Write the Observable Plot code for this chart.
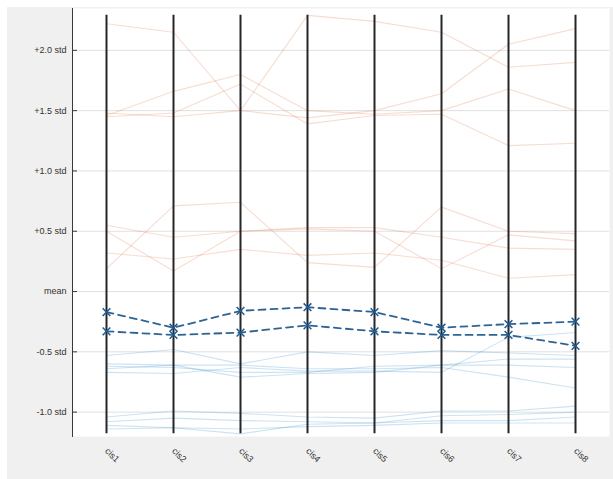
<!DOCTYPE html>
<html><head><meta charset="utf-8">
<script src="https://cdn.jsdelivr.net/npm/d3@7"></script>
<script src="https://cdn.jsdelivr.net/npm/@observablehq/plot@0.6"></script>
<style>
html,body{margin:0;padding:0;background:#fff;}
#chart{position:absolute;left:7px;top:7px;width:606px;height:472px;background:#f0f0f0;}
</style></head><body><div id="chart"></div>
<script>
const categories = ["cis1","cis2","cis3","cis4","cis5","cis6","cis7","cis8"];
const yTickValues = [2, 1.5, 1, 0.5, 0, -0.5, -1];
const yTickLabels = ["+2.0 std","+1.5 std","+1.0 std","+0.5 std","mean","-0.5 std","-1.0 std"];

// orange group (high)
const orangeA = [1.46, 1.66, 1.80, 1.50, 1.47, 1.50, 1.68, 1.50];
const orangeB = [1.45, 1.48, 1.72, 1.39, 1.46, 1.47, 1.21, 1.23];
const orangeC = [1.48, 1.45, 1.50, 2.29, 2.24, 2.15, 1.86, 1.90];
const orangeD = [2.22, 2.15, 1.50, 1.44, 1.50, 1.64, 2.05, 2.18];
// orange group (middle)
const orangeE = [0.19, 0.71, 0.74, 0.24, 0.20, 0.70, 0.50, 0.48];
const orangeF = [0.55, 0.45, 0.50, 0.53, 0.53, 0.45, 0.36, 0.35];
const orangeG = [0.50, 0.17, 0.50, 0.52, 0.50, 0.19, 0.47, 0.42];
const orangeH = [0.32, 0.27, 0.35, 0.30, 0.32, 0.26, 0.11, 0.14];
// blue group
const blueA = [-0.53, -0.48, -0.60, -0.50, -0.53, -0.49, -0.51, -0.53];
const blueB = [-0.60, -0.61, -0.61, -0.64, -0.64, -0.63, -0.71, -0.80];
const blueC = [-0.64, -0.61, -0.71, -0.68, -0.67, -0.61, -0.56, -0.56];
const blueD = [-0.67, -0.68, -0.63, -0.66, -0.66, -0.67, -0.38, -0.34];
const blueE = [-0.62, -0.63, -0.67, -0.67, -0.62, -0.61, -0.61, -0.63];
const blueF = [-1.04, -0.99, -1.01, -1.04, -1.05, -0.99, -0.99, -0.95];
const blueG = [-1.08, -1.05, -1.07, -1.08, -1.09, -1.03, -1.02, -1.00];
const blueH = [-1.11, -1.13, -1.18, -1.10, -1.09, -1.07, -1.07, -1.04];
const blueI = [-1.14, -1.13, -1.14, -1.12, -1.11, -1.09, -1.09, -1.09];
// highlighted (dashed) rows
const highlightA = [-0.17, -0.30, -0.16, -0.13, -0.17, -0.30, -0.27, -0.25];
const highlightB = [-0.33, -0.36, -0.34, -0.28, -0.33, -0.36, -0.36, -0.45];

const toRows = (series, group) => series.flatMap((vals, k) =>
  vals.map((v, i) => ({cat: categories[i], v, id: group + k})));
const orangeRows = toRows([orangeA, orangeB, orangeC, orangeD, orangeE, orangeF, orangeG, orangeH], "o");
const blueRows = toRows([blueA, blueB, blueC, blueD, blueE, blueF, blueG, blueH, blueI], "b");
const highRows = toRows([highlightA, highlightB], "h");
const allVals = [...orangeRows, ...blueRows, ...highRows].map(d => d.v);
const yMin = d3.min(allVals), yMax = d3.max(allVals);

const plot = Plot.plot({
  width: 606, height: 472,
  marginLeft: 65, marginRight: 4, marginTop: 1, marginBottom: 43,
  style: {background: "transparent", fontFamily: "'Liberation Sans', Arial, sans-serif", fontSize: "9px", color: "#333"},
  x: {type: "point", domain: categories, padding: 0.5, label: null},
  y: {domain: [-1.202, 2.347], label: null},
  marks: [
    Plot.frame({fill: "white", stroke: null}),
    Plot.gridY(yTickValues, {stroke: "#e0e0e0", strokeOpacity: 1}),
    Plot.line(orangeRows, {x: "cat", y: "v", z: "id", stroke: "#d9531a", strokeOpacity: 0.2, strokeWidth: 1.1}),
    Plot.line(blueRows, {x: "cat", y: "v", z: "id", stroke: "#0072bd", strokeOpacity: 0.2, strokeWidth: 1.1}),
    Plot.ruleX(categories, {y1: yMin, y2: yMax, stroke: "#262626", strokeWidth: 2}),
    Plot.line(highRows, {x: "cat", y: "v", z: "id", stroke: "#2d6494", strokeWidth: 1.8, strokeDasharray: "7,5"}),
    Plot.dot(highRows, {x: "cat", y: "v", symbol: "times", r: 3.6, stroke: "#1f5a8f", strokeWidth: 1.5}),
    Plot.frame({anchor: "left", stroke: "#3a3a3a"}),
    Plot.axisY(yTickValues, {tickSize: -5, tickPadding: 11, stroke: "#3a3a3a", fill: "#333", label: null,
      tickFormat: d => yTickLabels[yTickValues.indexOf(d)]}),
    Plot.axisX({tickSize: 0, tickRotate: 45, tickPadding: 13, fill: "#333", label: null})
  ]
});
document.getElementById("chart").appendChild(plot);
</script></body></html>
